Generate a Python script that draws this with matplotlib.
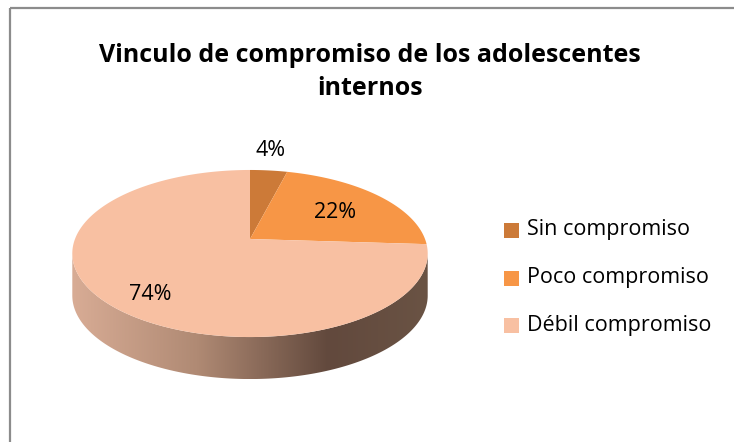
import numpy as np
import matplotlib
matplotlib.use("Agg")
import matplotlib.pyplot as plt
from matplotlib.patches import Polygon, Rectangle
from matplotlib.colors import LinearSegmentedColormap

# ---- data ----
categories = ["Sin compromiso", "Poco compromiso", "Débil compromiso"]
values = [4, 22, 74]
labels = ["4%", "22%", "74%"]
colors = ["#CC7A38", "#F79646", "#F8C0A2"]
title = "Vinculo de compromiso de los adolescentes\ninternos"

W, H = 734, 442
fig = plt.figure(figsize=(W / 100, H / 100), dpi=100)
ax = fig.add_axes([0, 0, 1, 1])
ax.set_xlim(0, W)
ax.set_ylim(H, 0)
ax.axis("off")

# chart-area border (cropped at right/bottom)
ax.add_patch(Rectangle((9.5, 7.5), 760, 460, fill=False, edgecolor="#8C8C8C", lw=1.6))

# perspective projection of a unit circle
cx, cy0 = 250.0, 239.0
A, C = -39.5, 0.1737
R = 175.0
depth = 42.0


def proj(u, v):
    den = 1 + C * v
    return cx + R * u / den, (A * v + cy0) / den


# side (visible front rim)
t = np.linspace(0, 2 * np.pi, 2000)
xs, ys = proj(np.cos(t), np.sin(t))
il, ir = np.argmin(xs), np.argmax(xs)
tl, tr = t[il], t[ir]
if tr < tl:
    tr += 2 * np.pi
ts = np.linspace(tl, tr, 400)
sx, sy = proj(np.cos(ts), np.sin(ts))
side_pts = np.concatenate([np.column_stack([sx, sy]),
                           np.column_stack([sx[::-1], sy[::-1] + depth])])
side = Polygon(side_pts, closed=True, facecolor="none", edgecolor="none")
ax.add_patch(side)
cmap = LinearSegmentedColormap.from_list(
    "side", [(0.0, "#D8AC95"), (0.35, "#B08A74"), (0.72, "#62493D"), (1.0, "#6A5344")])
grad = np.linspace(0, 1, 256)[None, :]
im = ax.imshow(grad, cmap=cmap, extent=[sx.min(), sx.max(), sy.max() + depth, sy.min()],
               aspect="auto", zorder=1)
im.set_clip_path(side)

# top wedges (clockwise from 12 o'clock)
start = 90.0
total = float(sum(values))
vx, vy = proj(0, 0)
for val, col in zip(values, colors):
    span = 360.0 * val / total
    a = np.radians(np.linspace(start, start - span, 300))
    px, py = proj(np.cos(a), np.sin(a))
    pts = np.column_stack([np.r_[vx, px], np.r_[vy, py]])
    ax.add_patch(Polygon(pts, closed=True, facecolor=col, edgecolor="none", zorder=2))
    start -= span

# data labels
font = "Open Sans"
label_pos = [(271, 150), (335, 213), (150, 295)]
for (lx, ly), txt in zip(label_pos, labels):
    ax.text(lx, ly, txt, fontsize=15.5, family=font, ha="center", va="center", zorder=3)

# title
ax.text(370, 72, title, fontsize=18, fontweight="bold", family=font,
        ha="center", va="center", linespacing=1.4)

# legend
ly0 = 230
for i, (cat, col) in enumerate(zip(categories, colors)):
    y = ly0 + i * 47.5
    ax.add_patch(Rectangle((504, y - 7), 15, 15, facecolor=col, edgecolor="none"))
    ax.text(527, y, cat, fontsize=15.5, family=font, ha="left", va="center")

fig.savefig("out.png", dpi=100)
